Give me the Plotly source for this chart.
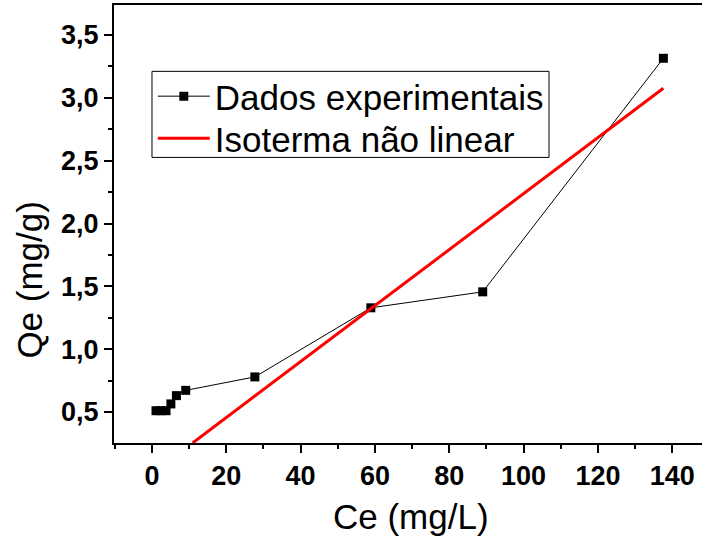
import plotly.graph_objects as go

ce_exp = [1.1, 2.3, 3.8, 5.1, 6.6, 9.1, 27.7, 58.9, 89.0, 137.6]
qe_exp = [0.51, 0.51, 0.51, 0.564, 0.63, 0.672, 0.779, 1.329, 1.456, 3.315]

# Fitted isotherm (end points)
ce_fit = [10.95, 137.6]
qe_fit = [0.253, 3.076]

x_range = [-10.2, 148.0]
y_range = [0.253, 3.739]

FONT = "Arial, Liberation Sans, sans-serif"

fig = go.Figure()
fig.add_trace(go.Scatter(
    x=ce_exp, y=qe_exp, mode="lines+markers", name="Dados experimentais",
    line=dict(color="black", width=1),
    marker=dict(symbol="square", size=9, color="black"),
    legend="legend",
))
fig.add_trace(go.Scatter(
    x=ce_fit, y=qe_fit, mode="lines", name="Isoterma não linear",
    line=dict(color="#ff0000", width=3),
    legend="legend2",
))

axis_common = dict(
    showgrid=False, zeroline=False, showline=True, linecolor="black", linewidth=2,
    ticks="outside", ticklen=8, tickwidth=2, tickcolor="black",
    tickfont=dict(family=FONT, size=27, color="black", weight="bold"),
)

leg_common = dict(
    xanchor="left", yanchor="middle", borderwidth=0, bgcolor="rgba(0,0,0,0)",
    font=dict(family=FONT, size=35, color="black"), itemwidth=52,
)

fig.update_layout(
    width=702, height=542,
    margin=dict(l=114, r=0, t=5, b=99),
    paper_bgcolor="white", plot_bgcolor="white",
    separators=", ",
    showlegend=True,
    legend=dict(x=0.066, y=0.7913, **leg_common),
    legend2=dict(x=0.066, y=0.6954, **leg_common),
    xaxis=dict(
        range=x_range, tick0=0, dtick=20, mirror=True,
        minor=dict(dtick=10, ticklen=4, tickwidth=2, ticks="outside", tickcolor="black"),
        **axis_common,
    ),
    yaxis=dict(
        range=y_range, tick0=0.5, dtick=0.5, tickformat=".1f",
        minor=dict(dtick=0.25, ticklen=4, tickwidth=2, ticks="outside", tickcolor="black"),
        **axis_common,
    ),
    shapes=[dict(
        type="rect", xref="paper", yref="paper",
        x0=0.0646, x1=0.7398, y0=0.652, y1=0.8485,
        line=dict(color="black", width=1), fillcolor="rgba(0,0,0,0)", layer="below",
    )],
    annotations=[
        dict(
            text="Qe (mg/g)", textangle=-90, xref="paper", yref="paper",
            x=-0.1429, y=0.373, xanchor="center", yanchor="middle", showarrow=False,
            font=dict(family=FONT, size=35, color="black"),
        ),
        dict(
            text="Ce (mg/L)", xref="paper", yref="paper",
            x=0.505, y=-0.168, xanchor="center", yanchor="middle", showarrow=False,
            font=dict(family=FONT, size=35, color="black"),
        ),
    ],
)

fig.write_html("out.html")
